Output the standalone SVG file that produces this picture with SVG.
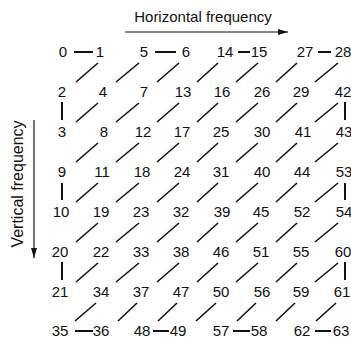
<svg xmlns="http://www.w3.org/2000/svg" width="351" height="347" viewBox="0 0 351 347">
<defs>
<style>
text{font-family:"Liberation Sans",Arial,sans-serif;font-size:15px;fill:#111;}
.n{text-anchor:middle;}
.c line{stroke:#111;stroke-width:1.6;stroke-linecap:butt;}
.c .h{stroke-width:2;}
.ax{stroke:#111;stroke-width:1.2;fill:none;}
.vt{font-size:16px;}
</style>
<marker id="ah" viewBox="0 0 10 6" refX="10" refY="3" markerWidth="10" markerHeight="6" markerUnits="userSpaceOnUse" orient="auto">
<path d="M0,0 L10,3 L0,6 Z" fill="#111"/>
</marker>
</defs>
<rect width="351" height="347" fill="#fff"/>
<g id="axis-h">
<text x="203" y="22" class="n">Horizontal frequency</text>
<line class="ax" x1="125" y1="32" x2="288" y2="32" marker-end="url(#ah)"/>
</g>
<g id="axis-v">
<text x="0" y="0" class="n vt" transform="translate(23,184) rotate(-90)">Vertical frequency</text>
<line class="ax" x1="34" y1="120" x2="34" y2="258" marker-end="url(#ah)"/>
</g>
<g id="connectors" class="c">
<line class="h" x1="74" y1="52" x2="93" y2="52"/>
<line class="h" x1="155" y1="52" x2="176" y2="52"/>
<line class="h" x1="238" y1="52" x2="250" y2="52"/>
<line class="h" x1="318" y1="52" x2="331" y2="52"/>
<line class="h" x1="75" y1="331" x2="93" y2="331"/>
<line class="h" x1="153" y1="331" x2="169" y2="331"/>
<line class="h" x1="233" y1="331" x2="250" y2="331"/>
<line class="h" x1="315" y1="331" x2="331" y2="331"/>
<line class="h" x1="62" y1="102" x2="62" y2="120"/>
<line class="h" x1="62" y1="183" x2="62" y2="200"/>
<line class="h" x1="62" y1="262" x2="62" y2="280"/>
<line class="h" x1="345" y1="102" x2="345" y2="120"/>
<line class="h" x1="345" y1="183" x2="345" y2="200"/>
<line class="h" x1="345" y1="262" x2="345" y2="280"/>
<g id="diagonals">
<line x1="98" y1="63" x2="76" y2="82"/>
<line x1="139" y1="63" x2="116" y2="82"/>
<line x1="179" y1="63" x2="157" y2="82"/>
<line x1="218" y1="63" x2="197" y2="82"/>
<line x1="258" y1="63" x2="236" y2="82"/>
<line x1="297" y1="63" x2="276" y2="82"/>
<line x1="338" y1="63" x2="315" y2="82"/>
<line x1="98" y1="103" x2="76" y2="122"/>
<line x1="139" y1="103" x2="116" y2="122"/>
<line x1="179" y1="103" x2="157" y2="122"/>
<line x1="218" y1="103" x2="197" y2="122"/>
<line x1="258" y1="103" x2="236" y2="122"/>
<line x1="297" y1="103" x2="276" y2="122"/>
<line x1="338" y1="103" x2="315" y2="122"/>
<line x1="98" y1="143" x2="76" y2="162"/>
<line x1="139" y1="143" x2="116" y2="162"/>
<line x1="179" y1="143" x2="157" y2="162"/>
<line x1="218" y1="143" x2="197" y2="162"/>
<line x1="258" y1="143" x2="236" y2="162"/>
<line x1="297" y1="143" x2="276" y2="162"/>
<line x1="338" y1="143" x2="315" y2="162"/>
<line x1="98" y1="183" x2="76" y2="202"/>
<line x1="139" y1="183" x2="116" y2="202"/>
<line x1="179" y1="183" x2="157" y2="202"/>
<line x1="218" y1="183" x2="197" y2="202"/>
<line x1="258" y1="183" x2="236" y2="202"/>
<line x1="297" y1="183" x2="276" y2="202"/>
<line x1="338" y1="183" x2="315" y2="202"/>
<line x1="98" y1="223" x2="76" y2="242"/>
<line x1="139" y1="223" x2="116" y2="242"/>
<line x1="179" y1="223" x2="157" y2="242"/>
<line x1="218" y1="223" x2="197" y2="242"/>
<line x1="258" y1="223" x2="236" y2="242"/>
<line x1="297" y1="223" x2="276" y2="242"/>
<line x1="338" y1="223" x2="315" y2="242"/>
<line x1="98" y1="263" x2="76" y2="282"/>
<line x1="139" y1="263" x2="116" y2="282"/>
<line x1="179" y1="263" x2="157" y2="282"/>
<line x1="218" y1="263" x2="197" y2="282"/>
<line x1="258" y1="263" x2="236" y2="282"/>
<line x1="297" y1="263" x2="276" y2="282"/>
<line x1="338" y1="263" x2="315" y2="282"/>
<line x1="96" y1="303" x2="75" y2="321"/>
<line x1="137" y1="303" x2="118" y2="321"/>
<line x1="177" y1="303" x2="158" y2="321"/>
<line x1="216" y1="303" x2="196" y2="321"/>
<line x1="256" y1="303" x2="237" y2="321"/>
<line x1="295" y1="303" x2="276" y2="321"/>
<line x1="336" y1="303" x2="316" y2="321"/>
</g>
</g>
<g id="nodes" class="n">
<g id="row0"><text x="63" y="57">0</text><text x="100" y="57">1</text><text x="144" y="57">5</text><text x="186" y="57">6</text><text x="225" y="57">14</text><text x="259" y="57">15</text><text x="305" y="57">27</text><text x="343" y="57">28</text></g>
<g id="row1"><text x="62" y="97">2</text><text x="103" y="97">4</text><text x="144" y="97">7</text><text x="183" y="97">13</text><text x="222" y="97">16</text><text x="262" y="97">26</text><text x="301" y="97">29</text><text x="343" y="97">42</text></g>
<g id="row2"><text x="62" y="137">3</text><text x="104" y="137">8</text><text x="143" y="137">12</text><text x="182" y="137">17</text><text x="221" y="137">25</text><text x="262" y="137">30</text><text x="303" y="137">41</text><text x="344" y="137">43</text></g>
<g id="row3"><text x="62" y="177">9</text><text x="102" y="177">11</text><text x="142" y="177">18</text><text x="182" y="177">24</text><text x="221" y="177">31</text><text x="262" y="177">40</text><text x="302" y="177">44</text><text x="344" y="177">53</text></g>
<g id="row4"><text x="61" y="217">10</text><text x="101" y="217">19</text><text x="141" y="217">23</text><text x="181" y="217">32</text><text x="222" y="217">39</text><text x="261" y="217">45</text><text x="302" y="217">52</text><text x="344" y="217">54</text></g>
<g id="row5"><text x="60" y="257">20</text><text x="101" y="257">22</text><text x="141" y="257">33</text><text x="181" y="257">38</text><text x="221" y="257">46</text><text x="261" y="257">51</text><text x="301" y="257">55</text><text x="343" y="257">60</text></g>
<g id="row6"><text x="60" y="297">21</text><text x="101" y="297">34</text><text x="141" y="297">37</text><text x="181" y="297">47</text><text x="221" y="297">50</text><text x="262" y="297">56</text><text x="301" y="297">59</text><text x="342" y="297">61</text></g>
<g id="row7"><text x="60" y="336">35</text><text x="101" y="336">36</text><text x="142" y="336">48</text><text x="178" y="336">49</text><text x="221" y="336">57</text><text x="259" y="336">58</text><text x="302" y="336">62</text><text x="341" y="336">63</text></g>
</g>
</svg>
